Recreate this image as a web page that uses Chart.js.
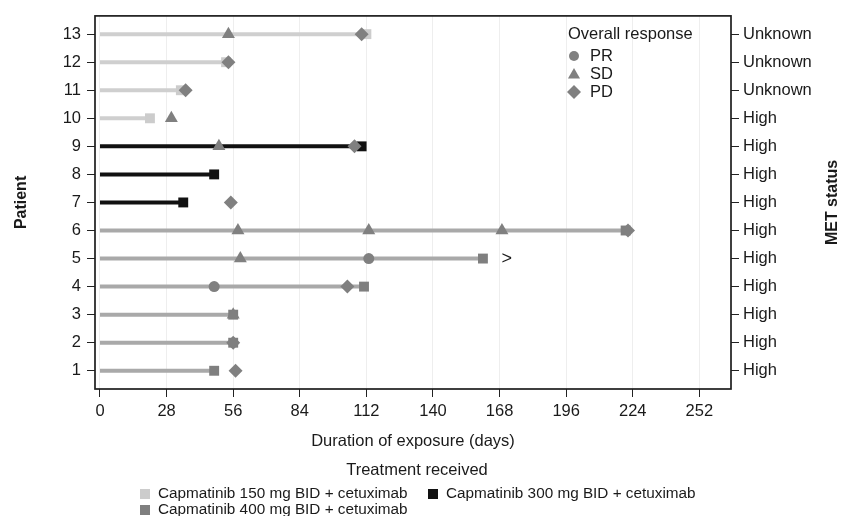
<!DOCTYPE html>
<html>
<head>
<meta charset="utf-8">
<script src="https://cdn.jsdelivr.net/npm/chart.js@4.4.1/dist/chart.umd.min.js"></script>
<style>
  html, body { margin: 0; padding: 0; background: #fff; }
  #wrap { position: relative; width: 850px; height: 516px; font-family: "Liberation Sans", Arial, sans-serif; color: #1a1a1a; }
  #legend { position: absolute; left: 0; top: 0; width: 850px; height: 516px; pointer-events: none; font-size: 15.3px; }
  #legend .title { position: absolute; left: 0; width: 834px; text-align: center; top: 460px; font-size: 16.5px; }
  #legend .item { position: absolute; white-space: nowrap; line-height: 16px; }
  #legend .box { display: inline-block; width: 10px; height: 10px; margin-right: 8px; vertical-align: -1px; }
</style>
</head>
<body>
<div id="wrap">
  <canvas id="exposureChart" width="850" height="516"></canvas>
  <div id="legend"></div>
</div>
<script>
// swimmer plot data, patients bottom (1) to top (13)
const patients = [1, 2, 3, 4, 5, 6, 7, 8, 9, 10, 11, 12, 13];
const metStatus = ["High", "High", "High", "High", "High", "High", "High", "High", "High", "High", "Unknown", "Unknown", "Unknown"];
const treatments = ["Capmatinib 150 mg BID + cetuximab", "Capmatinib 300 mg BID + cetuximab", "Capmatinib 400 mg BID + cetuximab"];
const treatmentOf = [2, 2, 2, 2, 2, 2, 1, 1, 1, 0, 0, 0, 0];
const exposureDays = [48, 56, 56, 111, 161, 221, 35, 48, 110, 21, 34, 53, 112];
const dayTicks = [0, 28, 56, 84, 112, 140, 168, 196, 224, 252];

const prPatient = [4, 5];
const prDay = [48, 113];
const sdPatient = [3, 5, 6, 6, 6, 9, 10, 13];
const sdDay = [56, 59, 58, 113, 169, 50, 30, 54];
const pdPatient = [1, 2, 4, 6, 7, 9, 11, 12, 13];
const pdDay = [57, 56, 104, 222, 55, 107, 36, 54, 110];

const ongoingPatient = [5];
const ongoingDay = [171];

const lineColors = ["#cfcfcf", "#111111", "#a9a9a9"];
const endColors = ["#cccccc", "#111111", "#7f7f7f"];
const markerColor = "#808080";
const textColor = "#1a1a1a";

Chart.defaults.font.family = '"Liberation Sans", Arial, sans-serif';
Chart.defaults.font.size = 16.5;
Chart.defaults.color = textColor;

function pts(ps, ds) {
  return ps.map((p, i) => ({ x: ds[i], y: p }));
}

const responseSets = [
  { label: "PR", data: pts(prPatient, prDay), pointStyle: "circle", pointRadius: 5.5 },
  { label: "SD", data: pts(sdPatient, sdDay), pointStyle: "triangle", pointRadius: 7.5 },
  { label: "PD", data: pts(pdPatient, pdDay), pointStyle: "rectRot", pointRadius: 7 },
].map(d => Object.assign(d, {
  showLine: false,
  backgroundColor: markerColor,
  borderColor: markerColor,
  pointBorderWidth: 0,
  pointHoverRadius: d.pointRadius,
}));

const barSets = patients.map((p, i) => {
  const g = treatmentOf[i];
  return {
    label: "bar" + p,
    data: [{ x: 0, y: p }, { x: exposureDays[i], y: p }],
    showLine: true,
    borderColor: lineColors[g],
    borderWidth: 4,
    borderCapStyle: "butt",
    pointStyle: "rect",
    pointRadius: [0, 7],
    pointBorderWidth: 0,
    pointBackgroundColor: endColors[g],
  };
});

function drawMarker(ctx, style, x, y, r) {
  ctx.beginPath();
  if (style === "circle") {
    ctx.arc(x, y, r, 0, Math.PI * 2);
  } else if (style === "triangle") {
    ctx.moveTo(x, y - r);
    ctx.lineTo(x + r * Math.sin(Math.PI * 2 / 3), y + r / 2);
    ctx.lineTo(x - r * Math.sin(Math.PI * 2 / 3), y + r / 2);
  } else {
    ctx.moveTo(x, y - r);
    ctx.lineTo(x + r, y);
    ctx.lineTo(x, y + r);
    ctx.lineTo(x - r, y);
  }
  ctx.closePath();
  ctx.fill();
}

const extras = {
  id: "extras",
  afterDatasetsDraw(chart) {
    const { ctx, scales } = chart;
    ctx.save();
    ctx.fillStyle = textColor;
    ctx.font = '18px "Liberation Sans", Arial, sans-serif';
    ctx.textAlign = "center";
    ctx.textBaseline = "middle";
    ongoingPatient.forEach((p, i) => {
      ctx.fillText(">", scales.x.getPixelForValue(ongoingDay[i]), scales.y.getPixelForValue(p));
    });
    ctx.restore();
  },
  afterDraw(chart) {
    const { ctx, chartArea: a } = chart;
    ctx.save();
    // frame
    ctx.strokeStyle = "#1e1e1e";
    ctx.lineWidth = 1.7;
    ctx.strokeRect(a.left, a.top, a.right - a.left, a.bottom - a.top);
    // response legend
    ctx.fillStyle = textColor;
    ctx.font = '16.5px "Liberation Sans", Arial, sans-serif';
    ctx.textBaseline = "middle";
    ctx.textAlign = "left";
    ctx.fillText("Overall response", 568, 34);
    const items = [["PR", "circle", 5], ["SD", "triangle", 7], ["PD", "diamond", 7]];
    items.forEach((it, i) => {
      const y = 56 + i * 18;
      ctx.fillStyle = markerColor;
      drawMarker(ctx, it[1], 574, it[1] === "triangle" ? y + 1 : y, it[2]);
      ctx.fillStyle = textColor;
      ctx.fillText(it[0], 590, y);
    });
    // right axis title
    ctx.font = 'bold 16px "Liberation Sans", Arial, sans-serif';
    ctx.textAlign = "center";
    ctx.translate(833, (a.top + a.bottom) / 2);
    ctx.rotate(-Math.PI / 2);
    ctx.fillText("MET status", 0, 0);
    ctx.restore();
  },
};

new Chart(document.getElementById("exposureChart"), {
  type: "scatter",
  data: { datasets: [...responseSets, ...barSets] },
  options: {
    responsive: false,
    animation: false,
    layout: { padding: { top: 12, bottom: 57, left: 0, right: 0 } },
    plugins: { legend: { display: false }, tooltip: { enabled: false } },
    scales: {
      x: {
        type: "linear",
        min: -2.1,
        max: 265.3,
        afterBuildTicks: s => { s.ticks = dayTicks.map(v => ({ value: v })); },
        afterFit: s => { s.height = 70; },
        ticks: { padding: 5, maxRotation: 0 },
        grid: { color: "#eeeeee", lineWidth: 1, tickColor: "#222", tickLength: 8 },
        border: { display: false },
        title: { display: true, text: "Duration of exposure (days)", padding: { top: 0, bottom: 8 } },
      },
      y: {
        type: "linear",
        position: "left",
        min: 0.35,
        max: 13.65,
        afterBuildTicks: s => { s.ticks = patients.map(v => ({ value: v })); },
        afterFit: s => { s.width = 95; },
        ticks: { padding: 6 },
        grid: { drawOnChartArea: false, tickColor: "#222", tickLength: 8 },
        border: { display: false },
        title: { display: true, text: "Patient", font: { size: 16, weight: "bold" }, padding: { top: 12, bottom: 0 } },
      },
      y1: {
        type: "linear",
        position: "right",
        min: 0.35,
        max: 13.65,
        afterBuildTicks: s => { s.ticks = patients.map(v => ({ value: v })); },
        afterFit: s => { s.width = 119; },
        ticks: { padding: 4, callback: v => metStatus[v - 1] },
        grid: { drawOnChartArea: false, tickColor: "#222", tickLength: 8 },
        border: { display: false },
      },
    },
  },
  plugins: [extras],
});

// treatment legend below the plot
const legend = document.getElementById("legend");
const legendPos = [[140, 485], [428, 485], [140, 501]];
let html = '<div class="title">Treatment received</div>';
treatments.forEach((t, i) => {
  html += '<div class="item" style="left:' + legendPos[i][0] + 'px;top:' + legendPos[i][1] + 'px">' +
    '<span class="box" style="background:' + endColors[i] + '"></span>' + t + '</div>';
});
legend.innerHTML = html;
</script>
</body>
</html>
